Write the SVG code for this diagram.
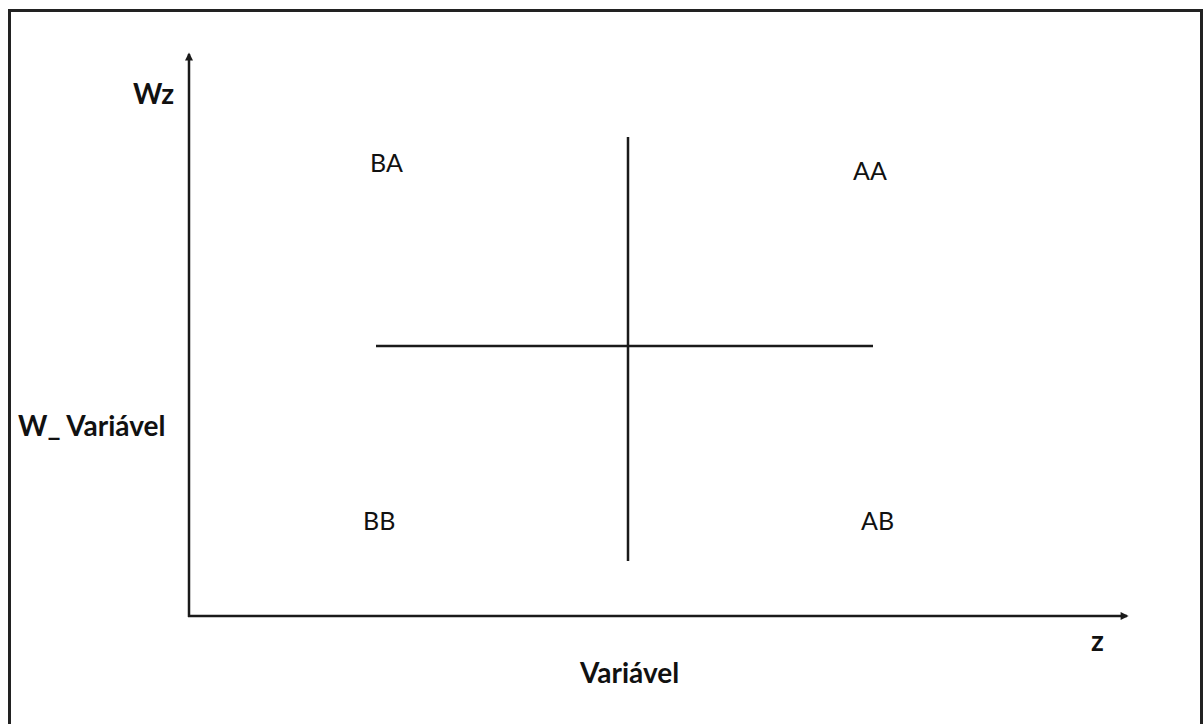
<svg xmlns="http://www.w3.org/2000/svg" width="1204" height="724" viewBox="0 0 1204 724">
<style>
.lbl{font-family:Lato,"Open Sans","Liberation Sans",sans-serif;fill:#111}
.b{font-weight:bold;font-size:28px}
.q{font-size:25px}
.ln{stroke:#1a1a1a;stroke-width:2.5;fill:none}
</style>
<defs>
<marker id="ah" viewBox="0 0 10 10" refX="8" refY="5" markerWidth="9" markerHeight="8" orient="auto" markerUnits="userSpaceOnUse">
<path d="M0,0 L10,5 L0,10 z" fill="#1a1a1a"/>
</marker>
</defs>
<rect x="0" y="0" width="1204" height="724" fill="#fff"/>
<rect id="frame" x="9.5" y="10.5" width="1192" height="720" fill="none" stroke="#222" stroke-width="3"/>
<g id="connectors">
<line class="ln" x1="189" y1="617" x2="189" y2="54" marker-end="url(#ah)"/>
<line class="ln" x1="188" y1="616" x2="1127" y2="616" marker-end="url(#ah)"/>
<line class="ln" x1="628" y1="137" x2="628" y2="561"/>
<line class="ln" x1="376" y1="346" x2="873" y2="346"/>
</g>
<g id="wz"><text class="lbl b" x="133" y="104">Wz</text></g>
<g id="wvar"><text class="lbl b" x="18" y="436">W_ Variável</text></g>
<g id="z"><text class="lbl b" x="1091" y="651">z</text></g>
<g id="var"><text class="lbl b" x="580" y="683">Variável</text></g>
<g id="ba"><text class="lbl q" x="370" y="172">BA</text></g>
<g id="aa"><text class="lbl q" x="853" y="180">AA</text></g>
<g id="bb"><text class="lbl q" x="363" y="530">BB</text></g>
<g id="ab"><text class="lbl q" x="861" y="530">AB</text></g>
</svg>
